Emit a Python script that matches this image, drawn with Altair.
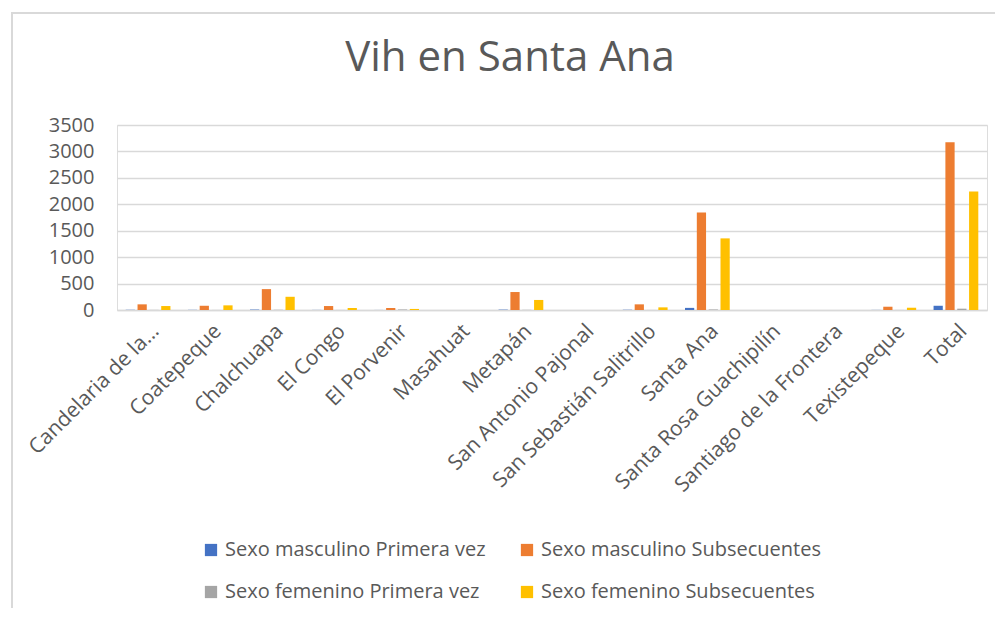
import altair as alt
import pandas as pd

title_text = "Vih en Santa Ana"
categories = ["Candelaria de la…", "Coatepeque", "Chalchuapa", "El Congo", "El Porvenir",
              "Masahuat", "Metapán", "San Antonio Pajonal", "San Sebastián Salitrillo",
              "Santa Ana", "Santa Rosa Guachipilín", "Santiago de la Frontera",
              "Texistepeque", "Total"]
series = ["Sexo masculino Primera vez", "Sexo masculino Subsecuentes",
          "Sexo femenino Primera vez", "Sexo femenino Subsecuentes"]
masc_primera = [4, 3, 8, 2, 1, 0, 7, 0, 3, 40, 0, 0, 2, 80]
masc_subsec = [107, 80, 395, 75, 38, 0, 340, 0, 107, 1845, 0, 0, 62, 3175]
fem_primera = [2, 1, 4, 1, 10, 0, 3, 0, 1, 10, 0, 0, 1, 25]
fem_subsec = [75, 88, 250, 38, 20, 0, 190, 0, 50, 1355, 0, 0, 43, 2240]
colors = ["#4472C4", "#ED7D31", "#A5A5A5", "#FFC000"]
y_ticks = [0, 500, 1000, 1500, 2000, 2500, 3000, 3500]

rows = []
for s, vals in zip(series, [masc_primera, masc_subsec, fem_primera, fem_subsec]):
    for c, v in zip(categories, vals):
        rows.append({"Municipio": c, "Serie": s, "Valor": v})
df = pd.DataFrame(rows)

FONT = "Open Sans"
GREY = "#595959"

bars = alt.Chart(df).mark_bar().encode(
    x=alt.X("Municipio:N", sort=categories, title=None,
            scale=alt.Scale(paddingInner=0.28, paddingOuter=0.14),
            axis=alt.Axis(labelAngle=-45, labelFontSize=21, labelColor=GREY, labelFont=FONT,
                          ticks=False, domainColor="#d9d9d9", domainWidth=1.5,
                          labelPadding=10, labelLimit=400)),
    xOffset=alt.XOffset("Serie:N", sort=series, scale=alt.Scale(paddingInner=0.22)),
    y=alt.Y("Valor:Q", title=None,
            scale=alt.Scale(domain=[0, 3500], nice=False),
            axis=alt.Axis(values=y_ticks, format="d", labelFontSize=20, labelColor=GREY,
                          labelFont=FONT, ticks=False, domain=False, gridColor="#d9d9d9",
                          gridWidth=1.5, labelPadding=23)),
    color=alt.Color("Serie:N", sort=series,
                    scale=alt.Scale(domain=series, range=colors),
                    legend=alt.Legend(title=None, orient="none", legendX=84, legendY=415,
                                      direction="horizontal",
                                      columns=2, columnPadding=31, rowPadding=22,
                                      symbolType="square", symbolSize=150, symbolStrokeWidth=0,
                                      labelFontSize=20, labelColor=GREY, labelFont=FONT,
                                      labelLimit=400, symbolOffset=0))
)

frame_df = pd.DataFrame({"k": [0]})
frame = alt.Chart(frame_df).mark_rect(fill="transparent", fillOpacity=0, stroke="#d9d9d9",
                                      strokeWidth=2).encode(
    x=alt.value(-105), x2=alt.value(900), y=alt.value(-112), y2=alt.value(560)
)

title_df = pd.DataFrame({"t": [title_text]})
title = alt.Chart(title_df).mark_text(fontSize=42, font=FONT, color=GREY, align="center",
                                      baseline="alphabetic").encode(
    text="t:N", x=alt.value(393), y=alt.value(-54)
)

chart = alt.layer(frame, bars, title).properties(
    width=870, height=185,
    autosize=alt.AutoSizeParams(type="none"),
    padding={"left": 109, "top": 117, "right": 8, "bottom": 298},
).configure_view(stroke=None).configure(background="white")

chart.save("out.html", embed_options={"renderer": "svg", "actions": False})
